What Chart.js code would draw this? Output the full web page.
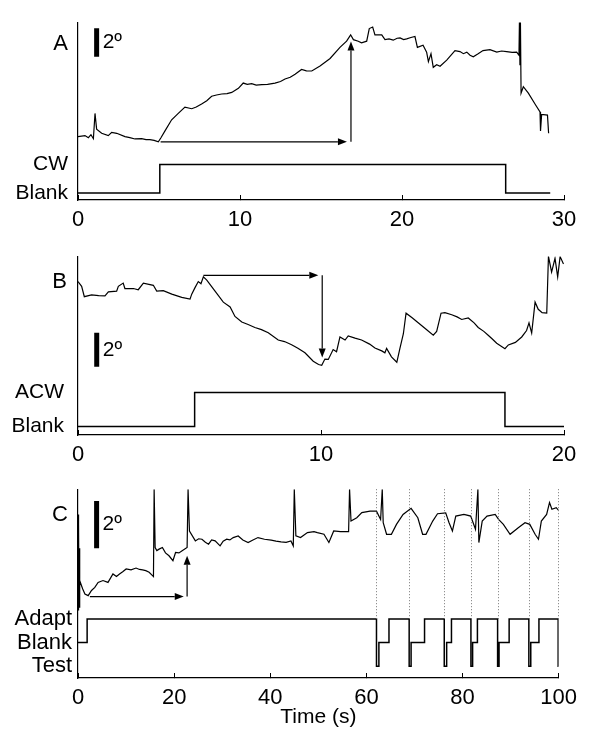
<!DOCTYPE html>
<html><head><meta charset="utf-8">
<script src="https://cdn.jsdelivr.net/npm/chart.js@4.4.0/dist/chart.umd.min.js"></script>
<style>
html,body{margin:0;padding:0;background:#fff;}
#wrap{position:relative;width:589px;height:740px;}
canvas{position:absolute;left:0;}
</style></head><body>
<div id="wrap">
<canvas id="cA" width="589" height="230" style="top:0"></canvas>
<canvas id="cB" width="589" height="240" style="top:230px"></canvas>
<canvas id="cC" width="589" height="270" style="top:470px"></canvas>
</div>
<script>
// ---------- DATA ----------
const scaleBarLabel = '2º';
const xLabel = 'Time (s)';
const panelLetters = ['A', 'B', 'C'];

// Panel A (time s, eye position deg)
const tA = [0,0.43,0.64,0.8,0.95,1.05,1.15,1.46,1.87,2.08,2.39,2.9,3.2,3.52,3.93,4.2,4.44,4.7,4.96,5.12,5.37,5.78,6.19,6.6,7.02,7.3,7.63,7.95,8.25,8.55,8.87,9.2,9.49,9.9,10.2,10.45,10.72,11.0,11.34,11.7,12.16,12.5,12.78,13.1,13.4,13.8,14.1,14.43,14.94,15.56,16.17,16.58,16.83,17.0,17.3,17.5,17.82,17.98,18.19,18.33,18.75,18.95,19.2,19.46,19.7,19.88,20.1,20.29,20.55,20.8,20.95,21.3,21.52,21.63,21.79,21.93,22.14,22.35,22.76,23.27,23.58,23.79,24.0,24.2,24.4,24.7,25.0,25.43,25.85,26.15,26.46,26.8,27.08,27.22,27.25,27.28,27.31,27.35,27.49,27.8,28.21,28.52,28.55,28.62,28.98,29.05];
const degA = [4.47,4.54,4.39,4.6,4.32,6.1,4.99,4.7,4.54,4.77,4.7,4.47,4.4,4.3,4.32,4.25,4.26,4.2,4.1,4.39,4.87,5.65,6.1,6.54,6.43,6.55,6.76,7.0,7.31,7.4,7.47,7.5,7.58,7.87,8.24,8.15,8.2,8.1,8.13,8.15,8.24,8.35,8.53,8.65,8.86,9.2,9.1,9.09,9.45,9.97,10.75,11.19,11.64,11.3,11.19,11.08,11.19,12.08,12.19,11.64,11.64,11.3,11.35,11.26,11.4,11.42,11.3,11.35,11.45,11.52,10.75,10.9,10.42,9.75,10.31,9.35,9.53,9.42,9.86,10.53,10.46,10.31,10.42,10.2,10.09,10.3,10.53,10.59,10.42,10.5,10.46,10.4,10.42,10.2,12.6,9.5,12.6,7.53,7.98,7.53,6.76,6.2,4.87,6.03,5.98,4.7];
const stimNamesA = ['Blank', 'CW'];
const stimLevelsA = [0.5, 2.5];
const stimTimesA = [0, 5.05, 26.4, 29.15];
const stimStateA = ['Blank', 'CW', 'Blank', 'Blank'];
const arrowsA = [[5.1, 4.1, 16.6, 4.1], [16.85, 4.1, 16.85, 11.17]];

// Panel B
const tB = [0,0.15,0.26,0.56,0.85,1.11,1.25,1.59,1.66,1.86,1.93,2.28,2.48,2.69,3.1,3.24,3.51,3.86,4.27,4.61,4.68,4.81,4.95,5.06,5.16,5.3,5.64,5.98,6.26,6.46,6.74,7.0,7.28,7.55,7.83,8.24,8.5,8.79,9.05,9.34,9.68,9.9,10.03,10.16,10.3,10.5,10.64,10.78,10.99,11.12,11.4,11.67,12.0,12.22,12.5,12.63,12.7,12.9,13.12,13.25,13.39,13.5,13.75,14.0,14.3,14.62,14.76,14.94,15.1,15.38,15.6,15.79,16.06,16.3,16.47,16.7,16.88,17.05,17.23,17.57,17.71,18.0,18.26,18.46,18.56,18.67,18.81,18.94,19.1,19.29,19.36,19.49,19.63,19.74,19.84,19.98];
const degB = [9.03,8.75,8.14,8.25,8.2,8.19,8.42,8.47,8.75,8.94,8.62,8.62,8.55,8.94,8.81,8.47,8.5,8.29,8.1,8.0,8.29,8.66,9.03,8.9,9.31,9.12,8.47,7.82,7.54,6.98,6.65,6.5,6.33,6.2,6.02,5.59,5.5,5.31,5.1,4.84,4.34,4.15,4.1,4.47,4.45,5.03,4.9,5.77,5.59,5.83,5.7,5.59,5.35,5.12,4.95,4.84,5.1,4.6,4.28,5.12,5.96,7.17,6.9,6.61,6.25,5.87,6.1,7.17,7.2,7.08,6.95,6.8,6.89,6.6,6.33,6.1,5.87,5.65,5.4,5.08,5.3,5.45,5.77,6.15,6.6,6.0,7.82,7.4,7.2,7.17,10.52,9.59,10.4,9.31,10.5,10.06];
const stimNamesB = ['Blank', 'ACW'];
const stimLevelsB = [0.5, 2.5];
const stimTimesB = [0, 4.8, 17.57, 20];
const stimStateB = ['Blank', 'ACW', 'Blank', 'Blank'];
const arrowsB = [[5.16, 9.4, 9.89, 9.4], [10.05, 9.4, 10.05, 4.56]];

// Panel C
const tC = [0,0.08,0.15,0.22,0.3,0.4,0.96,1.44,2.12,2.81,3.5,4.18,5.2,6.24,7.27,8.0,8.64,9.3,10.02,11.04,12.07,12.8,13.44,14.1,14.8,15.5,15.7,15.84,16.05,16.4,16.87,17.56,18.2,18.93,19.75,20.3,21.0,21.67,22.7,22.9,23.19,24.42,25.1,25.79,26.5,27.16,27.8,28.53,29.56,30.2,30.93,31.6,32.3,33.33,34.3,35.39,36.4,37.45,38.8,40.19,41.2,42.25,43.3,44.3,44.79,45.0,45.33,46.3,47.74,49.1,49.8,51.17,52.2,53.2,54.6,56.3,56.5,56.8,58.0,59.05,60.76,62.1,62.96,63.3,63.5,64.2,65.2,66.26,67.63,69.3,70.7,71.7,72.4,73.8,74.8,76.5,77.2,77.9,78.6,80.3,81.7,82.7,83.2,83.4,84.1,85.1,86.8,87.5,88.5,89.9,91.6,93.0,94.0,95.1,95.8,96.4,97.5,98.1,98.6,99.5,100];
const degC = [6.93,2.86,6.5,3.0,5.5,4.13,3.78,3.56,3.49,3.71,3.84,4.05,4.13,4.05,4.41,4.3,4.41,4.5,4.62,4.58,4.66,4.6,4.58,4.55,4.48,4.34,4.3,8.0,5.53,5.4,5.46,5.53,5.3,5.18,4.97,5.32,5.3,5.39,5.53,8.0,6.23,5.81,5.9,5.88,5.75,5.67,5.85,5.81,5.6,5.8,5.88,5.85,5.95,6.02,5.85,5.74,5.85,5.95,5.88,5.84,5.8,5.77,5.75,5.81,5.6,8.0,6.02,5.95,6.16,6.2,6.16,6.09,5.74,6.23,6.2,6.2,8.0,6.65,6.79,7.01,7.07,7.07,6.72,8.0,6.58,6.09,6.09,6.51,6.93,7.19,6.79,6.09,6.09,6.65,6.96,7.0,6.58,6.23,6.86,6.93,6.86,6.3,8.0,5.74,6.65,6.86,6.93,6.72,6.51,6.09,6.37,6.58,6.51,6.09,5.88,6.65,6.93,7.43,7.15,7.22,7.1];
const stimNamesC = ['Test', 'Blank', 'Adapt'];
const stimLevelsC = [0.5, 1.5, 2.5];
const stimTimesC = [0,1.9,62.1,62.6,64.7,68.9,69.3,72.1,76.2,76.7,77.7,81.75,82.1,83.1,87.3,87.6,89.7,93.8,94.2,95.9,99.9,100];
const stimStateC = ['Blank','Adapt','Test','Blank','Adapt','Test','Blank','Adapt','Test','Blank','Adapt','Test','Blank','Adapt','Test','Blank','Adapt','Test','Blank','Adapt','Test','Test'];
const testOnsetsC = [62.1, 68.9, 76.2, 81.75, 87.3, 93.8, 99.9];
const arrowsC = [[2.47, 3.45, 22.0, 3.45], [22.7, 3.45, 22.7, 5.18]];

// scale bars: [time, from deg, to deg]
const barA = [1.15, 10.1, 12.1];
const barB = [0.77, 4.02, 6.02];
const barC = [3.87, 5.5, 7.5];

// ---------- CHART ----------
Chart.defaults.font.family = "'Liberation Sans', Arial, Helvetica, sans-serif";
Chart.defaults.color = '#000';

const overlay = {
  id: 'overlay',
  afterDatasetsDraw(chart, args, o) {
    const {ctx, chartArea} = chart;
    const x = chart.scales.x, y = chart.scales.y;
    ctx.save();
    if (o.dots) {
      ctx.strokeStyle = '#777'; ctx.lineWidth = 1; ctx.setLineDash([1, 2]);
      o.dots.forEach(t => {
        const px = Math.round(x.getPixelForValue(t)) + 0.5;
        ctx.beginPath();
        ctx.moveTo(px, y.getPixelForValue(y.max));
        ctx.lineTo(px, y.getPixelForValue(o.dotBottom));
        ctx.stroke();
      });
      ctx.setLineDash([]);
    }
    ctx.strokeStyle = '#000'; ctx.fillStyle = '#000'; ctx.lineWidth = 1.2;
    o.arrows.forEach(([t1, v1, t2, v2]) => {
      const x1 = x.getPixelForValue(t1), y1 = y.getPixelForValue(v1);
      const x2 = x.getPixelForValue(t2), y2 = y.getPixelForValue(v2);
      const a = Math.atan2(y2 - y1, x2 - x1);
      const L = 9, W = 3.5;
      const bx = x2 - L * Math.cos(a), by = y2 - L * Math.sin(a);
      ctx.beginPath(); ctx.moveTo(x1, y1); ctx.lineTo(bx, by); ctx.stroke();
      ctx.beginPath();
      ctx.moveTo(x2, y2);
      ctx.lineTo(bx + W * Math.sin(a), by - W * Math.cos(a));
      ctx.lineTo(bx - W * Math.sin(a), by + W * Math.cos(a));
      ctx.closePath(); ctx.fill();
    });
    ctx.textBaseline = 'middle';
    ctx.font = "22px 'Liberation Sans', Arial, sans-serif";
    ctx.textAlign = 'right';
    ctx.fillText(o.letter, chartArea.left - o.letterGap, y.getPixelForValue(o.letterAt));
    ctx.font = "21px 'Liberation Sans', Arial, sans-serif";
    ctx.textAlign = 'left';
    ctx.fillText(scaleBarLabel, x.getPixelForValue(o.bar[0]) + 6, y.getPixelForValue((o.bar[1] + o.bar[2]) / 2));
    ctx.restore();
  }
};

function makeChart(id, c) {
  const levelOf = s => c.levels[c.names.indexOf(s)];
  return new Chart(document.getElementById(id), {
    type: 'line',
    data: {
      datasets: [
        { data: c.t.map((t, i) => ({x: t, y: c.deg[i]})), borderColor: '#000', borderWidth: 1.2, pointRadius: 0, tension: 0 },
        { data: c.stimT.map((t, i) => ({x: t, y: levelOf(c.stimS[i])})), stepped: 'before', borderColor: '#000', borderWidth: 1.5, pointRadius: 0 },
        { data: [{x: c.bar[0], y: c.bar[1]}, {x: c.bar[0], y: c.bar[2]}], borderColor: '#000', borderWidth: 5, borderCapStyle: 'butt', pointRadius: 0 }
      ]
    },
    options: {
      responsive: false, animation: false, devicePixelRatio: 1,
      layout: {padding: {top: c.padTop, right: 25, left: 0, bottom: 0}},
      plugins: {
        legend: {display: false}, tooltip: {enabled: false},
        overlay: {arrows: c.arrows, letter: c.letter, letterAt: c.letterAt, letterGap: c.letterGap, bar: c.bar, dots: c.dots, dotBottom: c.dotBottom}
      },
      scales: {
        x: {
          type: 'linear', min: 0, max: c.xMax,
          afterFit(s) { s.height = c.axisH; },
          ticks: {stepSize: c.step, color: '#000', font: {size: 22}, padding: 12, maxRotation: 0, autoSkip: false},
          grid: {display: true, drawOnChartArea: false, drawTicks: true, tickLength: -5, color: '#000', lineWidth: 1},
          border: {display: true, color: '#000', width: 1.2},
          title: c.title ? {display: true, text: c.title, color: '#000', font: {size: 21}, padding: {top: 0, bottom: 10}} : {display: false}
        },
        y: {
          type: 'linear', min: 0, max: c.yMax,
          afterFit(s) { s.width = 78; },
          afterBuildTicks(s) { s.ticks = c.levels.map(v => ({value: v})); },
          ticks: {callback: (v, i) => c.names[i], color: '#000', font: {size: c.labelSize}, padding: c.labelPad, autoSkip: false},
          grid: {display: false, drawTicks: false},
          border: {display: true, color: '#000', width: 1.2}
        }
      }
    },
    plugins: [overlay]
  });
}

makeChart('cA', {t: tA, deg: degA, names: stimNamesA, levels: stimLevelsA, stimT: stimTimesA, stimS: stimStateA,
  arrows: arrowsA, bar: barA, letter: panelLetters[0], letterAt: 10.97, letterGap: 10,
  xMax: 30, step: 10, yMax: 12.5, padTop: 12, axisH: 30, labelSize: 21, labelPad: 10});
makeChart('cB', {t: tB, deg: degB, names: stimNamesB, levels: stimLevelsB, stimT: stimTimesB, stimS: stimStateB,
  arrows: arrowsB, bar: barB, letter: panelLetters[1], letterAt: 9.0, letterGap: 11,
  xMax: 20, step: 10, yMax: 10.5, padTop: 17, axisH: 35, labelSize: 21, labelPad: 14});
makeChart('cC', {t: tC, deg: degC, names: stimNamesC, levels: stimLevelsC, stimT: stimTimesC, stimS: stimStateC,
  arrows: arrowsC, bar: barC, letter: panelLetters[2], letterAt: 6.9, letterGap: 10,
  dots: testOnsetsC, dotBottom: 2.5, title: xLabel,
  xMax: 100, step: 20, yMax: 8, padTop: 18, axisH: 62, labelSize: 22, labelPad: 6});
</script>
</body></html>
